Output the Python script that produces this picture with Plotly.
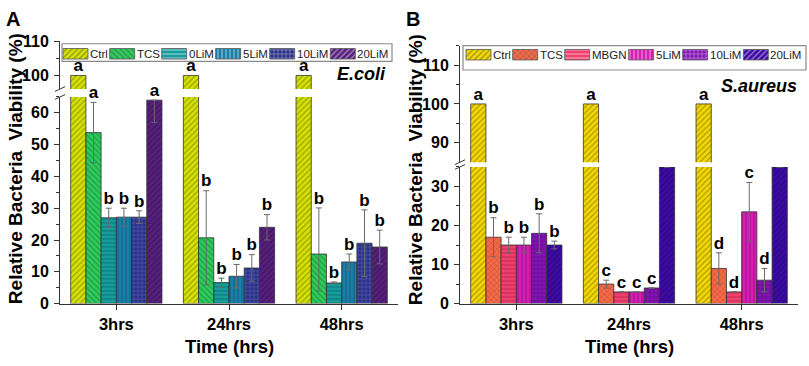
import plotly.graph_objects as go

W, H = 809, 366
FONT = "Liberation Sans, Arial, sans-serif"

times = ["3hrs", "24hrs", "48hrs"]

# ---------------- Panel A : E.coli ----------------
a_names = ["Ctrl", "TCS", "0LiM", "5LiM", "10LiM", "20LiM"]
a_ctrl = [100, 100, 100]
a_tcs = [53.8, 20.7, 15.6]
a_0lim = [27.0, 6.6, 6.5]
a_5lim = [27.2, 8.6, 13.1]
a_10lim = [27.2, 11.2, 19.0]
a_20lim = [64.0, 24.0, 17.8]

a_ctrl_up = [0, 0, 0]
a_tcs_up = [9.5, 14.8, 14.5]
a_0lim_up = [3.0, 1.4, 0.3]
a_5lim_up = [2.8, 3.7, 2.5]
a_10lim_up = [2.0, 4.2, 10.5]
a_20lim_up = [0.0, 4.0, 5.3]

a_ctrl_dn = [0, 0, 0]
a_tcs_dn = [9.5, 14.8, 11.6]
a_0lim_dn = [3.0, 1.4, 0.3]
a_5lim_dn = [2.8, 3.7, 2.5]
a_10lim_dn = [2.0, 4.2, 10.5]
a_20lim_dn = [7.0, 4.0, 5.3]

a_ctrl_sig = ["a", "a", "a"]
a_tcs_sig = ["a", "b", "b"]
a_0lim_sig = ["b", "b", "b"]
a_5lim_sig = ["b", "b", "b"]
a_10lim_sig = ["b", "b", "b"]
a_20lim_sig = ["a", "b", "b"]

# ---------------- Panel B : S.aureus ----------------
b_names = ["Ctrl", "TCS", "MBGN", "5LiM", "10LiM", "20LiM"]
b_ctrl = [100, 100, 100]
b_tcs = [17.0, 5.0, 9.0]
b_mbgn = [15.0, 3.0, 3.0]
b_5lim = [15.0, 3.0, 23.5]
b_10lim = [18.0, 4.0, 6.0]
b_20lim = [15.0, 35.0, 35.0]

b_ctrl_err = [0, 0, 0]
b_tcs_err = [5.0, 1.0, 4.0]
b_mbgn_err = [2.0, 0.0, 0.0]
b_5lim_err = [2.0, 0.0, 7.5]
b_10lim_err = [5.0, 0.0, 3.0]
b_20lim_err = [1.0, 0.0, 0.0]

b_ctrl_sig = ["a", "a", "a"]
b_tcs_sig = ["b", "c", "d"]
b_mbgn_sig = ["b", "c", "d"]
b_5lim_sig = ["b", "c", "c"]
b_10lim_sig = ["b", "c", "d"]
b_20lim_sig = ["b", "b", "b"]

# ---------------- styles ----------------
a_colors = ["#d6e200", "#2fcc5c", "#169c9c", "#1a7fa8", "#2b3088", "#56207c"]
a_fg = ["#5d6400", "#0e6a2c", "#0a5858", "#0c4866", "#7a86d0", "#2a0c42"]
a_shapes = ["/", "\\", "-", "|", "+", "/"]

b_colors = ["#f4d900", "#f26a4a", "#f0406e", "#d41eb4", "#8414b4", "#3c0aa4"]
b_fg = ["#6a5a00", "#b03a22", "#a01a40", "#7a0a66", "#3a0660", "#1a0555"]
b_shapes = ["/", "x", "-", "|", "+", "/"]

BARGAP = 0.19
AXC = "#333333"

fig = go.Figure()


def py(p):
    return 1 - p / H


def px_(p):
    return p / W


def add_panel(names, vals, ups, dns, sigs, colors, fgs, shapes, xa, ylo, yhi, lo_top):
    n = len(names)
    xs = list(range(len(times)))
    for j in range(n):
        pat = dict(shape=shapes[j], bgcolor=colors[j], fgcolor=fgs[j], size=4, solidity=0.3)
        mk = dict(color=colors[j], pattern=pat, line=dict(color=AXC, width=0.8))
        has_err = any(v > 0 for v in ups[j]) or any(v > 0 for v in dns[j])
        fig.add_trace(go.Bar(x=xs, y=vals[j], name=names[j], marker=mk, showlegend=False,
                             xaxis=xa, yaxis=ylo,
                             error_y=dict(type="data", symmetric=False, array=ups[j], arrayminus=dns[j],
                                          color="#6a6a6a", thickness=1, width=3, visible=has_err)))
        fig.add_trace(go.Bar(x=xs, y=vals[j], name=names[j], marker=mk, showlegend=False,
                             xaxis=xa, yaxis=yhi))
    groupw = 1 - BARGAP
    lo_x, lo_y, lo_t, hi_x, hi_y, hi_t = [], [], [], [], [], []
    for j in range(n):
        for i in xs:
            xpos = i - groupw / 2 + (j + 0.5) * groupw / n
            top = vals[j][i] + ups[j][i]
            if top < lo_top:
                lo_x.append(xpos); lo_y.append(top); lo_t.append(sigs[j][i])
            else:
                hi_x.append(xpos); hi_y.append(top); hi_t.append(sigs[j][i])
    tf = dict(family=FONT, size=17, color="black", weight="bold")
    fig.add_trace(go.Scatter(x=lo_x, y=lo_y, text=lo_t, mode="text", textposition="top center",
                             textfont=tf, cliponaxis=False, showlegend=False, hoverinfo="skip",
                             xaxis=xa, yaxis=ylo))
    fig.add_trace(go.Scatter(x=hi_x, y=hi_y, text=hi_t, mode="text", textposition="top center",
                             textfont=tf, cliponaxis=False, showlegend=False, hoverinfo="skip",
                             xaxis=xa, yaxis=yhi))


A_LO = (0, 65)
A_HI = (96, 110)
B_LO = (0, 35)
B_HI = (85, 115)

add_panel(a_names,
          [a_ctrl, a_tcs, a_0lim, a_5lim, a_10lim, a_20lim],
          [a_ctrl_up, a_tcs_up, a_0lim_up, a_5lim_up, a_10lim_up, a_20lim_up],
          [a_ctrl_dn, a_tcs_dn, a_0lim_dn, a_5lim_dn, a_10lim_dn, a_20lim_dn],
          [a_ctrl_sig, a_tcs_sig, a_0lim_sig, a_5lim_sig, a_10lim_sig, a_20lim_sig],
          a_colors, a_fg, a_shapes, "x", "y", "y2", A_LO[1])

b_errs = [b_ctrl_err, b_tcs_err, b_mbgn_err, b_5lim_err, b_10lim_err, b_20lim_err]
add_panel(b_names,
          [b_ctrl, b_tcs, b_mbgn, b_5lim, b_10lim, b_20lim],
          b_errs, b_errs,
          [b_ctrl_sig, b_tcs_sig, b_mbgn_sig, b_5lim_sig, b_10lim_sig, b_20lim_sig],
          b_colors, b_fg, b_shapes, "x2", "y3", "y4", B_LO[1])

# ---------------- custom legends (pattern swatches) ----------------
CW = {"C": .722, "t": .278, "r": .333, "l": .222, "T": .611, "S": .667, "0": .556, "1": .556,
      "2": .556, "5": .556, "L": .556, "i": .222, "M": .833, "B": .667, "G": .778, "N": .722}
LFS = 12


def tw(s):
    return sum(CW.get(c, .556) for c in s) * LFS


def add_legend(names, colors, fgs, shapes, x0, yc, box):
    sw, sh, gap = 25, 11, 2
    cx, widths, bases, hs = [], [], [], []
    x = x0
    for nm in names:
        cx.append(x + sw / 2); widths.append(sw); bases.append(H - (yc + sh / 2)); hs.append(sh)
        fig.add_annotation(xref="x3", yref="y5", x=x + sw + gap, y=H - yc, text=nm,
                           showarrow=False, xanchor="left", yanchor="middle", borderpad=0,
                           borderwidth=0, font=dict(family=FONT, size=11.5, color="#222"))
        x = x + sw + gap + tw(nm) + 1
    fig.add_trace(go.Bar(x=cx, y=hs, base=bases, width=widths, showlegend=False, hoverinfo="skip",
                         marker=dict(color=colors, line=dict(color="#555", width=0.8),
                                     pattern=dict(shape=shapes, bgcolor=colors, fgcolor=fgs,
                                                  size=4, solidity=0.3)),
                         xaxis="x3", yaxis="y5"))
    fig.add_shape(type="rect", xref="paper", yref="paper",
                  x0=px_(box[0]), x1=px_(box[2]), y0=py(box[3]), y1=py(box[1]),
                  line=dict(color="#8a8a8a", width=1.2), fillcolor="rgba(0,0,0,0)")


add_legend(a_names, a_colors, a_fg, a_shapes, 63, 48, (62, 37.5, 392, 56))
add_legend(b_names, b_colors, b_fg, b_shapes, 466, 49, (463, 39.5, 806, 65))

# ---------------- axes ----------------
tickf = dict(family=FONT, size=16, color="black", weight="bold")
xcommon = dict(range=[-0.5, 2.5], tickvals=[0, 1, 2], ticktext=times, ticks="outside", ticklen=5,
               tickcolor=AXC, showline=True, linecolor=AXC, linewidth=1, showgrid=False,
               zeroline=False, ticklabelstandoff=1,
               tickfont=dict(family=FONT, size=16.5, color="black", weight="bold"))
ycommon = dict(ticks="outside", ticklen=5, tickcolor=AXC, showline=True, linecolor=AXC, linewidth=1,
               showgrid=False, zeroline=False, tickfont=tickf, ticklabelstandoff=2)
minor5 = dict(ticks="outside", ticklen=3, tickcolor=AXC, dtick=5, tick0=0, showgrid=False)

fig.update_layout(
    width=W, height=H, margin=dict(l=0, r=0, t=0, b=0),
    paper_bgcolor="white", plot_bgcolor="rgba(0,0,0,0)",
    barmode="group", bargap=BARGAP, bargroupgap=0, showlegend=False,
    font=dict(family=FONT, color="black"),
    xaxis=dict(domain=[px_(60), px_(398)], anchor="y", **xcommon),
    yaxis=dict(domain=[py(310), py(93.3)], anchor="x", range=list(A_LO), dtick=10, tick0=0,
               minor=minor5, **ycommon),
    yaxis2=dict(domain=[py(85), py(35)], anchor="x", range=list(A_HI), tickvals=[100, 110],
                minor=dict(ticks="outside", ticklen=3, tickcolor=AXC, tickvals=[105]), **ycommon),
    xaxis2=dict(domain=[px_(460), px_(798)], anchor="y3", **xcommon),
    yaxis3=dict(domain=[py(310), py(166.7)], anchor="x2", range=list(B_LO), dtick=10, tick0=0,
                minor=minor5, **ycommon),
    yaxis4=dict(domain=[py(161.7), py(39.5)], anchor="x2", range=list(B_HI), tickvals=[90, 100, 110],
                minor=dict(ticks="outside", ticklen=3, tickcolor=AXC, tickvals=[95, 105, 115]), **ycommon),
    xaxis3=dict(domain=[0, 1], range=[0, W], visible=False, anchor="y5", fixedrange=True),
    yaxis5=dict(domain=[0, 1], range=[0, H], visible=False, anchor="x3", fixedrange=True),
)

# ---------------- axis break marks ----------------
for (xa, ytop, ybot) in [(60, 85, 93.3), (460, 161.7, 166.7)]:
    for yy in (ytop, ybot):
        fig.add_shape(type="line", xref="paper", yref="paper",
                      x0=px_(xa - 5), y0=py(yy + 2.5), x1=px_(xa + 5), y1=py(yy - 2.5),
                      line=dict(color=AXC, width=1))

# ---------------- text annotations ----------------
title_f = dict(family=FONT, size=19, color="black", weight="bold")
xtitle_f = dict(family=FONT, size=18.5, color="black", weight="bold")
ann = [
    dict(text="A", x=px_(4), y=py(12), xanchor="left", yanchor="middle",
         font=dict(family=FONT, size=20, color="black", weight="bold")),
    dict(text="B", x=px_(404), y=py(12), xanchor="left", yanchor="middle",
         font=dict(family=FONT, size=20, color="black", weight="bold")),
    dict(text="E.coli", x=px_(388), y=py(69), xanchor="right", yanchor="middle",
         font=dict(family=FONT, size=18, color="black", weight="bold", style="italic")),
    dict(text="S.aureus", x=px_(799), y=py(82), xanchor="right", yanchor="middle",
         font=dict(family=FONT, size=18, color="black", weight="bold", style="italic")),
    dict(text="Time (hrs)", x=px_(229), y=py(355), xanchor="center", yanchor="middle",
         borderpad=0, font=xtitle_f),
    dict(text="Time (hrs)", x=px_(629), y=py(355), xanchor="center", yanchor="middle",
         borderpad=0, font=xtitle_f),
    dict(text="Relative Bacteria  Viability (%)", x=px_(15), y=py(169), textangle=-90,
         xanchor="center", yanchor="middle", font=title_f),
    dict(text="Relative Bacteria  Viability (%)", x=px_(415), y=py(169), textangle=-90,
         xanchor="center", yanchor="middle", font=title_f),
]
for a in ann:
    fig.add_annotation(xref="paper", yref="paper", showarrow=False, **a)

fig.write_html("out.html", config={"displayModeBar": False},
               post_script="document.body.style.margin='0';document.body.style.overflow='hidden';")
